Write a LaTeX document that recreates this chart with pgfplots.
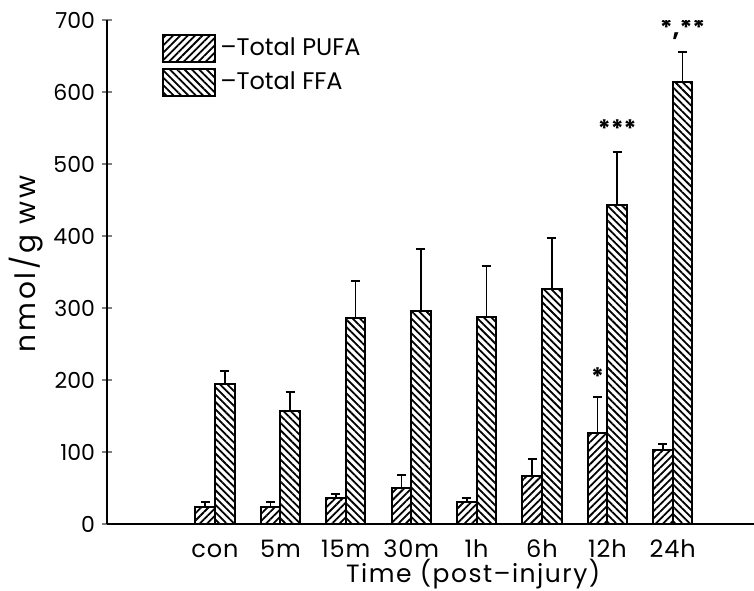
\documentclass[border=0pt]{standalone}
\usepackage{pgfplots}
\pgfplotsset{compat=1.18}
\usepackage{fontspec}
\setmainfont{Poppins}
\usetikzlibrary{patterns.meta,calc}

\pgfplotstableread{
x y e
0 24 7
1 24 7
2 36 6
3 50 18
4 30 6
5 66 24
6 126 50
7 103 8
}\pufa
\pgfplotstableread{
x y e
0 194 18
1 157 27
2 286 51
3 296 86
4 288 71
5 326 71
6 443 73
7 614 41
}\ffa

\begin{document}
\begin{tikzpicture}
\begin{axis}[
  name=ax,
  scale only axis,
  width=323.5pt, height=252pt,
  xmin=-1.651, xmax=8.242,
  ymin=0, ymax=700,
  axis lines=left,
  axis line style={-, line width=1pt},
  ybar=0pt, bar width=9.8pt,
  xtick=data,
  xticklabels={con,5m,15m,30m,1h,6h,12h,24h},
  xtick style={draw=none},
  xticklabel style={font=\fontsize{12}{14}\selectfont\addfontfeature{LetterSpace=4}, anchor=base, yshift=-14.5pt},
  ytick={0,100,...,700},
  ytick style={line width=0.8pt},
  tick align=center,
  major tick length=5pt,
  yticklabel style={font=\fontsize{11}{12}\selectfont},
  /pgf/number format/assume math mode=true,
  xlabel={Time (post--injury)},
  every axis x label/.style={at={(rel axis cs:0.566,0)}, anchor=base, yshift=-29.5pt,
    font=\fontsize{12.5}{14}\selectfont\addfontfeature{LetterSpace=6}},
  ylabel={nmol/g\hspace{0.35em}ww},
  every axis y label/.style={at={(rel axis cs:0,0.516)}, xshift=-40.5pt, rotate=90, anchor=center,
    font=\fontsize{14}{16}\selectfont\addfontfeature{LetterSpace=10}},
  legend style={draw=none, fill=none, at={(rel axis cs:0.085,0.974)}, anchor=north west,
    inner sep=0pt, row sep=2.5pt, font=\fontsize{12}{14}\selectfont,
    nodes={inner sep=0pt, anchor=west}},
  legend cell align=left,
  /tikz/every odd column/.append style={column sep=2pt},
  error bars/y dir=plus,
  error bars/y explicit,
  error bars/error bar style={line width=0.85pt},
  error bars/error mark options={rotate=90, mark size=2.25pt, line width=1pt},
]
\addplot[draw=black, line width=1pt, pattern={Lines[angle=45,distance=2.6pt,line width=0.9pt]},
  legend image code/.code={\draw[line width=1pt, pattern={Lines[angle=45,distance=2.6pt,line width=0.9pt]}] (0pt,-6.75pt) rectangle (26pt,6.75pt);}]
  table[x=x, y=y, y error=e] {\pufa};
\addlegendentry{--Total PUFA}
\addplot[draw=black, line width=1pt, pattern={Lines[angle=-45,distance=2.6pt,line width=0.9pt]},
  legend image code/.code={\draw[line width=1pt, pattern={Lines[angle=-45,distance=2.6pt,line width=0.9pt]}] (0pt,-6.75pt) rectangle (26pt,6.75pt);}]
  table[x=x, y=y, y error=e] {\ffa};
\addlegendentry{--Total FFA}
\node[font=\fontsize{12}{14}\selectfont\bfseries] at (axis cs:6,205) [xshift=-4.9pt] {*};
\node[font=\fontsize{12}{14}\selectfont\bfseries] at (axis cs:6,549) [xshift=4.9pt] {***};
\node[font=\fontsize{12}{14}\selectfont\bfseries] at (axis cs:7,687) [xshift=4.9pt] {*,**};
\end{axis}
\pgfresetboundingbox
\path ($(ax.south west)+(-53.5pt,-33.5pt)$) rectangle ($(ax.north east)+(0pt,10pt)$);
\end{tikzpicture}
\end{document}
